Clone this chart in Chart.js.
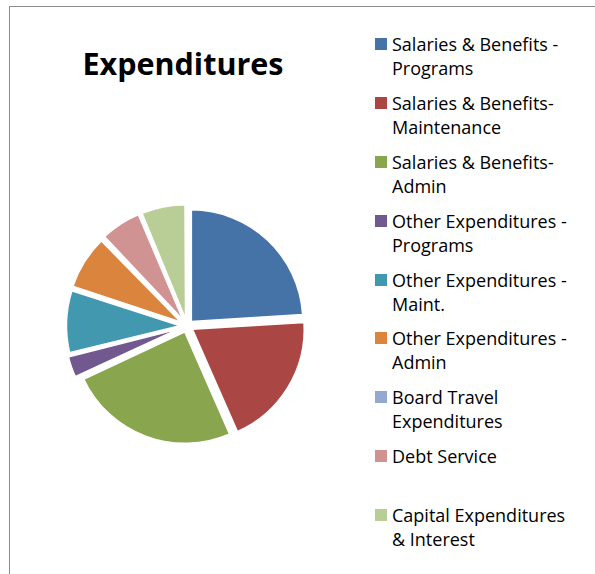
<!DOCTYPE html>
<html>
<head>
<meta charset="utf-8">
<script src="https://cdn.jsdelivr.net/npm/chart.js@4.4.0/dist/chart.umd.min.js"></script>
<style>
  html, body { margin: 0; padding: 0; background: #fff; width: 595px; height: 574px; overflow: hidden; }
  #frame { position: absolute; left: 9px; top: 6px; width: 600px; height: 600px; border-left: 1.5px solid #8c8c8c; border-top: 1.5px solid #8c8c8c; box-sizing: border-box; }
  #title { position: absolute; left: 6px; width: 354px; top: 43px; text-align: center; font-family: "Open Sans", sans-serif; font-weight: bold; font-size: 30.5px; line-height: 40px; color: #000; }
  #chartBox { position: absolute; left: 10px; top: 83px; width: 354px; height: 486px; }
  #legend { position: absolute; left: 375px; top: 32px; margin: 0; padding: 0; list-style: none; font-family: "Open Sans", sans-serif; font-size: 18px; line-height: 24px; color: #000; }
  #legend li { position: relative; height: 58.9px; padding-left: 17px; }
  #legend .box { position: absolute; left: 0; top: 6px; width: 12px; height: 12px; }
</style>
</head>
<body>
<div id="frame"></div>
<div id="title">Expenditures</div>
<div id="chartBox"><canvas id="c"></canvas></div>
<ul id="legend"></ul>
<script>
const categories = [
  ["Salaries & Benefits -", "Programs"],
  ["Salaries & Benefits-", "Maintenance"],
  ["Salaries & Benefits-", "Admin"],
  ["Other Expenditures -", "Programs"],
  ["Other Expenditures -", "Maint."],
  ["Other Expenditures -", "Admin"],
  ["Board Travel", "Expenditures"],
  ["Debt Service"],
  ["Capital Expenditures", "& Interest"]
];
const values = [24.0, 19.4, 24.6, 3.1, 8.9, 7.7, 0.15, 5.8, 6.3];
const colors = ["#4572A7", "#AA4643", "#89A54E", "#71588F", "#4198AF", "#DB843D", "#93A9CF", "#D19392", "#B9CD96"];

const legend = document.getElementById('legend');
categories.forEach((lines, i) => {
  const li = document.createElement('li');
  const box = document.createElement('span');
  box.className = 'box';
  box.style.background = colors[i];
  li.appendChild(box);
  lines.forEach((t, k) => {
    if (k > 0) li.appendChild(document.createElement('br'));
    li.appendChild(document.createTextNode(t));
  });
  legend.appendChild(li);
});

new Chart(document.getElementById('c'), {
  type: 'pie',
  data: {
    labels: categories.map(l => l.join(' ')),
    datasets: [{
      data: values,
      backgroundColor: colors,
      borderColor: '#ffffff',
      borderWidth: 2,
      offset: 24,
      radius: 112
    }]
  },
  options: {
    responsive: true,
    maintainAspectRatio: false,
    animation: false,
    layout: { padding: 0 },
    plugins: { legend: { display: false }, tooltip: { enabled: false }, title: { display: false } }
  }
});
</script>
</body>
</html>
